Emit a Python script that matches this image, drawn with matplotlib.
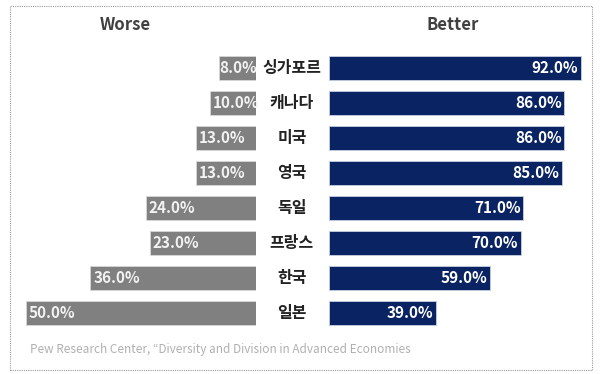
import matplotlib
matplotlib.use("Agg")
import matplotlib.pyplot as plt
from matplotlib.patches import Rectangle

plt.rcParams['font.family'] = ['Noto Sans CJK KR', 'DejaVu Sans']

countries = ["싱가포르", "캐나다", "미국", "영국", "독일", "프랑스", "한국", "일본"]
worse = [8.0, 10.0, 13.0, 13.0, 24.0, 23.0, 36.0, 50.0]
better = [92.0, 86.0, 86.0, 85.0, 71.0, 70.0, 59.0, 39.0]
title_left = "Worse"
title_right = "Better"
source = "Pew Research Center, “Diversity and Division in Advanced Economies"

W, H = 600, 374
fig = plt.figure(figsize=(W / 100, H / 100), dpi=100)
fig.patch.set_facecolor("white")

def px_axes(x0, x1, ytop, ybot):
    return fig.add_axes([x0 / W, 1 - ybot / H, (x1 - x0) / W, (ybot - ytop) / H])

ytop, ybot = 50.5, 330.5
axL = px_axes(26, 256, ytop, ybot)
axR = px_axes(329, 589, ytop, ybot)

gray = "#808080"
navy = "#0a2463"
ys = list(range(len(countries)))

axL.barh(ys, worse, height=0.66, color=gray, edgecolor="#d8d8d8", linewidth=0.6)
axL.set_xlim(50, 0)
axR.barh(ys, better, height=0.66, color=navy, edgecolor="#c8d0e0", linewidth=0.6)
axR.set_xlim(0, 95)

for ax in (axL, axR):
    ax.set_ylim(len(countries) - 0.5, -0.5)
    ax.axis("off")

for y, v in zip(ys, worse):
    pad = 2 if v > 9 else 0
    axL.annotate(f"{v:.1f}%", (v, y), xytext=(pad, 0), textcoords="offset points",
                 ha="left", va="center", color="#f2f2f2",
                 fontsize=11, fontweight="bold")
for y, v in zip(ys, better):
    axR.annotate(f"{v:.1f}%", (v, y), xytext=(-2, 0), textcoords="offset points",
                 ha="right", va="center", color="white",
                 fontsize=11, fontweight="bold")

for y, c in zip(ys, countries):
    yp = 68 + 35 * y
    fig.text(292 / W, 1 - yp / H, c, ha="center", va="center", fontsize=11.5,
             fontweight="bold", color="#222222")

fig.text(125 / W, 1 - 25 / H, title_left, ha="center", va="center",
         fontsize=12, fontweight="bold", color="#404040")
fig.text(453 / W, 1 - 25 / H, title_right, ha="center", va="center",
         fontsize=12, fontweight="bold", color="#404040")
fig.text(30 / W, 1 - 350 / H, source, ha="left", va="center",
         fontsize=8.5, color="#b0b0b0")

fig.patches.append(Rectangle((10 / W, 1 - 370 / H), 582 / W, 364 / H,
                             transform=fig.transFigure, fill=False,
                             edgecolor="#999999", linestyle=(0, (1, 1)),
                             linewidth=0.8))

fig.savefig("out.png", dpi=100)
